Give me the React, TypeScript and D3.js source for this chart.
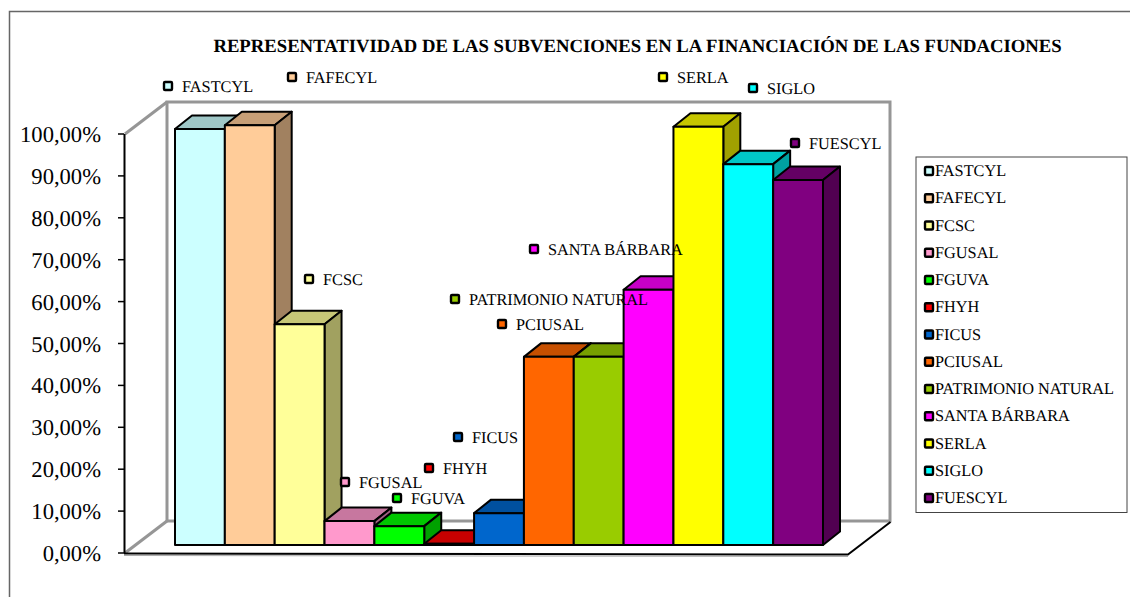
import React from "react";
import * as d3 from "d3";

const categories = ["FASTCYL","FAFECYL","FCSC","FGUSAL","FGUVA","FHYH","FICUS","PCIUSAL","PATRIMONIO NATURAL","SANTA BÁRBARA","SERLA","SIGLO","FUESCYL"];
const values = [99.3,100.2,52.7,5.7,4.5,0.3,7.6,44.9,44.9,60.9,99.8,90.9,87.1];
const colors = ["#CCFFFF","#FFCC99","#FFFF99","#FF99CC","#00FF00","#FF0000","#0066CC","#FF6600","#99CC00","#FF00FF","#FFFF00","#00FFFF","#800080"];
const yTicks = [0,10,20,30,40,50,60,70,80,90,100];
const title = "REPRESENTATIVIDAD DE LAS SUBVENCIONES EN LA FINANCIACIÓN DE LAS FUNDACIONES";
// hand-placed data label anchors
const labelX = [168,292,309,345,397,429,458,502,455,534,663,753,795];
const labelY = [86,77,279,482,498,468,437,324,299,249,77,88,143];

const FONT = "'Liberation Serif','Times New Roman',serif";
const W = 1130, H = 597;
const y = d3.scaleLinear().domain([0,100]).range([553,134]);
const x = d3.scaleBand<string>().domain(categories).range([175,823]).paddingInner(0).paddingOuter(0);
const DX = 17, DY = 13.5, BASE = 8;
const shade = (c: string, k: number) => { const r = d3.rgb(c); return d3.rgb(r.r*k, r.g*k, r.b*k).formatHex(); };
const poly = (p: number[][]) => p.map(q => q.join(",")).join(" ");
const pct = (v: number) => v.toFixed(2).replace(".", ",") + "%";

function Marker({cx, cy, fill}: {cx:number; cy:number; fill:string}) {
  return <rect x={cx-4} y={cy-4} width={8} height={8} rx={1} fill={fill} stroke="#000" strokeWidth={2.4} />;
}

export default function App() {
  const bw = x.bandwidth();
  const y0 = y(0) - BASE;
  return (
    <svg width={W} height={H} style={{position:"absolute",left:0,top:0,background:"#fff"}} fontFamily={FONT} textRendering="geometricPrecision">
      <path d={`M9.5,${H}V11.5H${W}`} fill="none" stroke="#666" strokeWidth={1.5} />
      <text x={637.5} y={51.5} textAnchor="middle" fontWeight="bold" fontSize={18.7} fill="#000">{title}</text>

      {/* walls */}
      <rect x={167} y={102} width={723} height={419} fill="#fff" stroke="#969696" strokeWidth={3} />
      <line x1={125} y1={134} x2={167} y2={102} stroke="#969696" strokeWidth={3} />
      <line x1={125} y1={553} x2={167} y2={521} stroke="#969696" strokeWidth={3} />

      {/* floor front */}
      <path d="M124,553.5L848,554.5L890.5,522" fill="none" stroke="#000" strokeWidth={2} />
      <line x1={124} y1={555.5} x2={848} y2={556.5} stroke="#aaa" strokeWidth={1} />

      {/* axis */}
      <line x1={124.5} y1={y(100)} x2={124.5} y2={y(0)} stroke="#000" strokeWidth={2} />
      {yTicks.map(t => (
        <g key={t}>
          <line x1={118} x2={124} y1={y(t)} y2={y(t)} stroke="#000" strokeWidth={1.5} />
          <text x={101} y={y(t)+8} textAnchor="end" fontSize={22.6} fill="#000">{pct(t)}</text>
        </g>
      ))}

      {/* bars */}
      {categories.map((c,i) => {
        const l = x(c)!, r = l + bw, t = y(values[i]) - BASE;
        return (
          <g key={c} stroke="#000" strokeWidth={2} strokeLinejoin="round">
            <polygon points={poly([[l,t],[l+DX,t-DY],[r+DX,t-DY],[r,t]])} fill={shade(colors[i],0.78)} />
            <polygon points={poly([[r,t],[r+DX,t-DY],[r+DX,y0-DY],[r,y0]])} fill={shade(colors[i],0.63)} />
            <rect x={l} y={t} width={bw} height={y0-t} fill={colors[i]} />
          </g>
        );
      })}

      {/* data labels */}
      {categories.map((c,i) => (
        <g key={c}>
          <Marker cx={labelX[i]} cy={labelY[i]} fill={colors[i]} />
          <text x={labelX[i]+14} y={labelY[i]+6} fontSize={16.3} fill="#000">{c}</text>
        </g>
      ))}

      {/* legend */}
      <rect x={916} y={157} width={211} height={355.5} fill="#fff" stroke="#444" strokeWidth={1} />
      {categories.map((c,i) => {
        const cy = 171 + i*27.25;
        return (
          <g key={c}>
            <Marker cx={929} cy={cy} fill={colors[i]} />
            <text x={935} y={cy+5} fontSize={16.3} fill="#000">{c}</text>
          </g>
        );
      })}
    </svg>
  );
}
